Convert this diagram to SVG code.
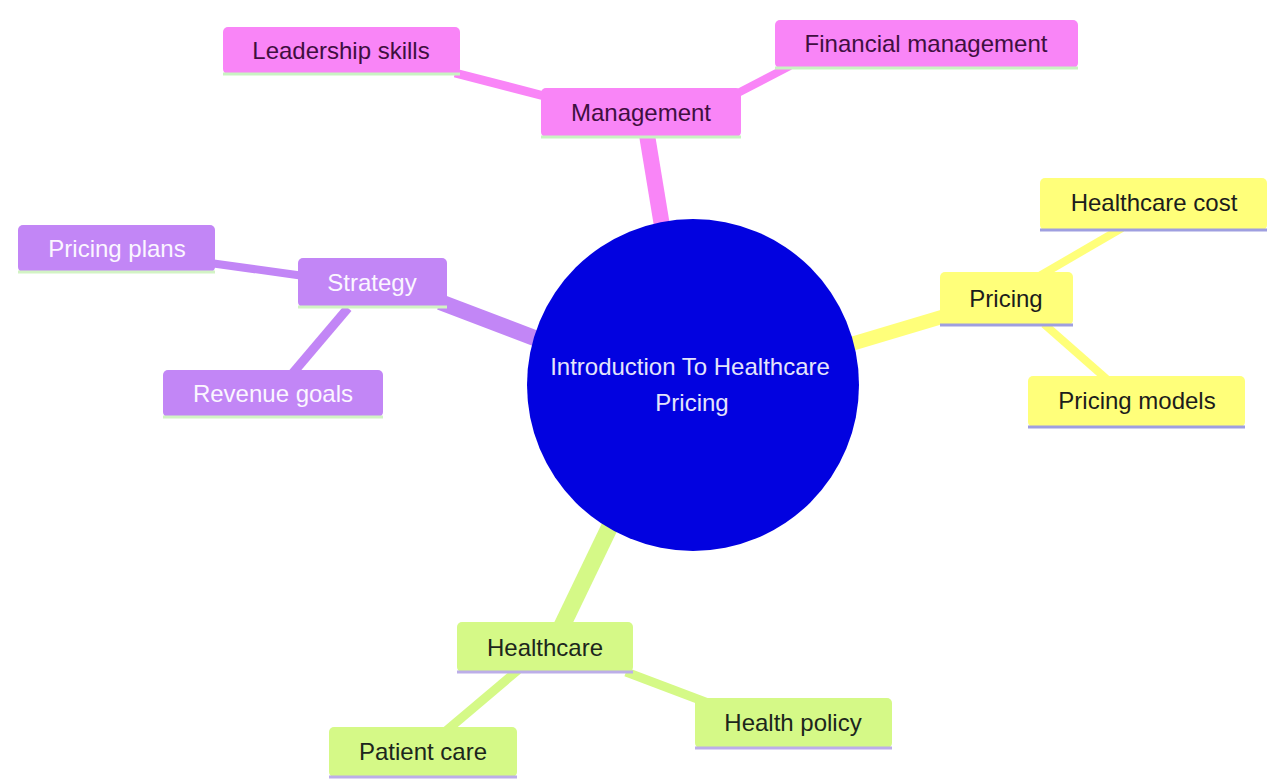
<svg xmlns="http://www.w3.org/2000/svg" width="1271" height="780" viewBox="0 0 1271 780">
<style>
  text { font-family: "Liberation Sans", Arial, sans-serif; font-size: 24px; text-anchor: middle; }
  .pink rect { fill: #f985f7; }
  .pink line { stroke: #c9f3c2; stroke-width: 3; }
  .pink text { fill: #3f0f40; }
  .purple rect { fill: #c286f6; }
  .purple line { stroke: #d2f3c4; stroke-width: 3; }
  .purple text { fill: #fbf6ff; }
  .yellow rect { fill: #ffff7a; }
  .yellow line { stroke: #9f9fe0; stroke-width: 3; }
  .yellow text { fill: #1c1c1c; }
  .lime rect { fill: #d5f987; }
  .lime line { stroke: #bcaee8; stroke-width: 3; }
  .lime text { fill: #1c261c; }
  .e { fill: none; stroke-linecap: butt; }
  .ep { stroke: #f985f7; }
  .eu { stroke: #c286f6; }
  .ey { stroke: #ffff7a; }
  .el { stroke: #d5f987; }
  .root { fill: #0202e0; }
  .roottext { fill: #e4e4fb; }
</style>
<rect width="1271" height="780" fill="#ffffff"/>
<g id="connectors">
  <line class="e ep" x1="647" y1="135" x2="662" y2="226" stroke-width="16"/>
  <line class="e eu" x1="440" y1="302" x2="545" y2="342" stroke-width="16"/>
  <line class="e ey" x1="945" y1="316" x2="848" y2="345" stroke-width="14"/>
  <line class="e el" x1="612" y1="522" x2="560" y2="630" stroke-width="17"/>
  <line class="e ep" x1="455" y1="73" x2="548" y2="97" stroke-width="9"/>
  <line class="e ep" x1="736" y1="94" x2="790" y2="66" stroke-width="8"/>
  <line class="e eu" x1="210" y1="263" x2="304" y2="276" stroke-width="8"/>
  <line class="e eu" x1="348" y1="308" x2="292" y2="374" stroke-width="9"/>
  <line class="e ey" x1="1036" y1="278" x2="1122" y2="228" stroke-width="8"/>
  <line class="e ey" x1="1044" y1="324" x2="1110" y2="382" stroke-width="8"/>
  <line class="e el" x1="518" y1="670" x2="446" y2="731" stroke-width="9"/>
  <line class="e el" x1="626" y1="672" x2="708" y2="703" stroke-width="9"/>
</g>
<g id="root">
  <circle class="root" cx="693" cy="385" r="166"/>
  <text class="roottext" x="690" y="375">Introduction To Healthcare</text>
  <text class="roottext" x="692" y="411">Pricing</text>
</g>
<g id="management" class="pink">
  <rect x="541" y="88" width="200" height="49" rx="5"/>
  <line x1="541" y1="137" x2="741" y2="137"/>
  <text x="641" y="121">Management</text>
</g>
<g id="leadership-skills" class="pink">
  <rect x="223" y="27" width="237" height="47" rx="5"/>
  <line x1="223" y1="74" x2="460" y2="74"/>
  <text x="341" y="59">Leadership skills</text>
</g>
<g id="financial-management" class="pink">
  <rect x="775" y="20" width="303" height="48" rx="5"/>
  <line x1="775" y1="68" x2="1078" y2="68"/>
  <text x="926" y="52">Financial management</text>
</g>
<g id="strategy" class="purple">
  <rect x="298" y="258" width="149" height="49" rx="5"/>
  <line x1="298" y1="307" x2="447" y2="307"/>
  <text x="372" y="291">Strategy</text>
</g>
<g id="pricing-plans" class="purple">
  <rect x="18" y="225" width="197" height="47" rx="5"/>
  <line x1="18" y1="272" x2="215" y2="272"/>
  <text x="117" y="257">Pricing plans</text>
</g>
<g id="revenue-goals" class="purple">
  <rect x="163" y="370" width="220" height="47" rx="5"/>
  <line x1="163" y1="417" x2="383" y2="417"/>
  <text x="273" y="402">Revenue goals</text>
</g>
<g id="pricing" class="yellow">
  <rect x="940" y="272" width="133" height="53" rx="5"/>
  <line x1="940" y1="325" x2="1073" y2="325"/>
  <text x="1006" y="307">Pricing</text>
</g>
<g id="healthcare-cost" class="yellow">
  <rect x="1040" y="178" width="227" height="52" rx="5"/>
  <line x1="1040" y1="230" x2="1267" y2="230"/>
  <text x="1154" y="211">Healthcare cost</text>
</g>
<g id="pricing-models" class="yellow">
  <rect x="1028" y="376" width="217" height="51" rx="5"/>
  <line x1="1028" y1="427" x2="1245" y2="427"/>
  <text x="1137" y="409">Pricing models</text>
</g>
<g id="healthcare" class="lime">
  <rect x="457" y="622" width="176" height="50" rx="5"/>
  <line x1="457" y1="672" x2="633" y2="672"/>
  <text x="545" y="656">Healthcare</text>
</g>
<g id="patient-care" class="lime">
  <rect x="329" y="727" width="188" height="50" rx="5"/>
  <line x1="329" y1="777" x2="517" y2="777"/>
  <text x="423" y="760">Patient care</text>
</g>
<g id="health-policy" class="lime">
  <rect x="695" y="698" width="197" height="50" rx="5"/>
  <line x1="695" y1="748" x2="892" y2="748"/>
  <text x="793" y="731">Health policy</text>
</g>
</svg>
